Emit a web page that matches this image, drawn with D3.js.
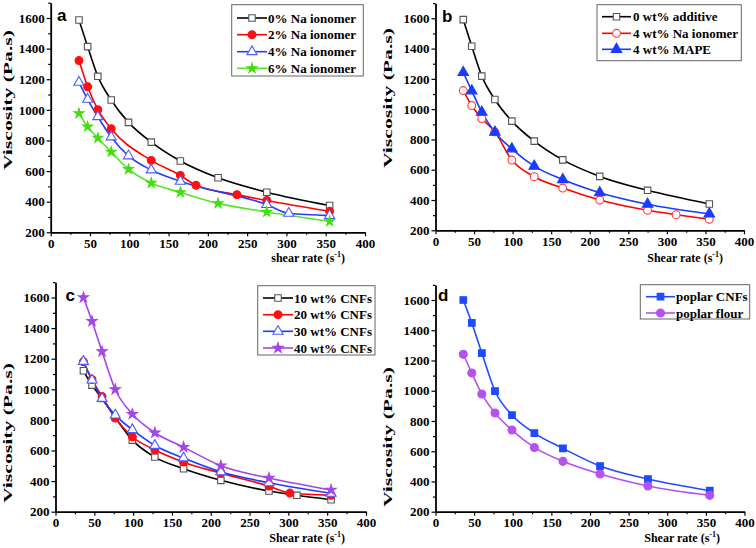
<!DOCTYPE html>
<html><head><meta charset="utf-8">
<script src="https://cdn.jsdelivr.net/npm/d3@7"></script>
<style>
html,body{margin:0;padding:0;background:#fff;}
svg{display:block;}
text{font-family:"Liberation Serif","Times New Roman",serif;font-weight:bold;fill:#000;}
.plabel{font-family:"Liberation Sans",Arial,sans-serif;font-weight:bold;}
</style></head>
<body>
<svg id="c" width="756" height="548"></svg>
<script>
// ---------- DATA ----------
const xTicks = [0,50,100,150,200,250,300,350,400];
const yTicks = [200,400,600,800,1000,1200,1400,1600];

// panel a
const aX0 = [36,47,60,77,99,128,165,213,275,355];
const aY0 = [1587,1413,1219,1064,918,789,666,556,462,375];
const aX2 = [36,47,60,77,128,165,185,237,275,355];
const aY2 = [1322,1151,1001,877,670,572,507,446,408,337];
const aX4 = [36,47,60,77,99,128,165,275,303,355];
const aY4 = [1180,1069,955,823,699,607,533,381,324,309];
const aX6 = [36,47,60,77,99,128,165,213,275,355];
const aY6 = [977,890,816,725,612,522,461,389,333,272];
const aNames = ["0% Na ionomer","2% Na ionomer","4% Na ionomer","6% Na ionomer"];

// panel b
const bX0 = [36,47,60,77,99,128,165,213,275,355];
const bY0 = [1591,1415,1218,1064,921,789,665,556,464,374];
const bXNa = [36,47,60,77,99,128,165,213,275,312,355];
const bYNa = [1123,1024,938,850,664,554,479,400,332,303,273];
const bXMa = [36,47,60,77,99,128,165,213,275,355];
const bYMa = [1242,1121,980,848,738,624,535,448,372,308];
const bNames = ["0 wt% additive","4 wt% Na ionomer","4 wt% MAPE"];

// panel c
const cX10 = [36,47,60,77,99,128,165,213,275,311,355];
const cY10 = [1121,1027,940,816,668,557,481,405,335,307,278];
const cX20 = [36,47,60,77,99,128,165,213,275,302,355];
const cY20 = [1180,1064,953,812,690,603,524,452,367,322,307];
const cX30 = [36,47,60,77,99,128,165,213,275,355];
const cY30 = [1182,1060,940,831,736,633,551,461,389,320];
const cX40 = [36,47,60,77,99,128,165,213,275,355];
const cY40 = [1600,1445,1247,999,838,716,622,500,420,342];
const cNames = ["10 wt% CNFs","20 wt% CNFs","30 wt% CNFs","40 wt% CNFs"];

// panel d
const dX = [36,47,60,77,99,128,165,213,275,355];
const dYCnf = [1600,1448,1249,998,839,720,619,502,416,339];
const dYFlour = [1241,1117,978,853,740,625,533,449,370,308];
const dNames = ["poplar CNFs","poplar flour"];

// ---------- STYLES ----------
const S = {
  sqOpen:  {sym:d3.symbolSquare,  size:42, fill:"#fff", stroke:"#555"},
  cirRed:  {sym:d3.symbolCircle,  size:48, fill:"#ff1010", stroke:"#ff1010"},
  triOpenB:{sym:d3.symbolTriangle,size:44, fill:"#fff", stroke:"#4a5cff"},
  starG:   {sym:d3.symbolStar,    size:30, fill:"#44dd11", stroke:"#44dd11"},
  cirOpenR:{sym:d3.symbolCircle,  size:48, fill:"#fff", stroke:"#ff3a3a"},
  triB:    {sym:d3.symbolTriangle,size:48, fill:"#1a3cff", stroke:"#1a3cff"},
  starP:   {sym:d3.symbolStar,    size:32, fill:"#a645e6", stroke:"#a645e6"},
  sqB:     {sym:d3.symbolSquare,  size:44, fill:"#1f4bff", stroke:"#1f4bff"},
  cirP:    {sym:d3.symbolCircle,  size:50, fill:"#b552ee", stroke:"#b552ee"}
};

const panels = [
  {label:"a", lx:57, ly:21, xl:"shear rate (s", xlX:345, xlY:262, ylX:12, ylY:100,
   x0:50.7, x1:365, yb:232.3, yt:18,
   leg:{x:231.7, y:4.7, w:131.6, h:71.3, rows:[18,34.7,51.7,68.3], lx0:237, lx1:267, tx:268},
   series:[
    {xs:aX0, ys:aY0, name:aNames[0], color:"#000", m:S.sqOpen},
    {xs:aX2, ys:aY2, name:aNames[1], color:"#ff0000", m:S.cirRed},
    {xs:aX4, ys:aY4, name:aNames[2], color:"#2a3cff", m:S.triOpenB},
    {xs:aX6, ys:aY6, name:aNames[3], color:"#55e622", m:S.starG}]},
  {label:"b", lx:442, ly:21.7, xl:"Shear rate (s", xlX:723, xlY:262, ylX:392, ylY:98,
   x0:435.5, x1:744, yb:230.3, yt:18.3,
   leg:{x:597, y:4.7, w:144.3, h:56, rows:[16.7,33.3,49.3], lx0:602, lx1:631, tx:633},
   series:[
    {xs:bX0, ys:bY0, name:bNames[0], color:"#000", m:S.sqOpen},
    {xs:bXNa, ys:bYNa, name:bNames[1], color:"#ff0000", m:S.cirOpenR},
    {xs:bXMa, ys:bYMa, name:bNames[2], color:"#1a3cff", m:S.triB}]},
  {label:"c", lx:65.5, ly:300.7, xl:"Shear rate (s", xlX:345, xlY:542, ylX:12, ylY:433,
   x0:55.5, x1:366, yb:511.7, yt:297.5,
   leg:{x:257.7, y:285.7, w:117.3, h:69.3, rows:[298,314.7,331.3,348], lx0:263, lx1:293, tx:294},
   series:[
    {xs:cX10, ys:cY10, name:cNames[0], color:"#000", m:S.sqOpen},
    {xs:cX20, ys:cY20, name:cNames[1], color:"#ff0000", m:S.cirRed},
    {xs:cX30, ys:cY30, name:cNames[2], color:"#1a3cff", m:S.triOpenB},
    {xs:cX40, ys:cY40, name:cNames[3], color:"#a645e6", m:S.starP}]},
  {label:"d", lx:438, ly:300.7, xl:"Shear rate (s", xlX:720, xlY:542, ylX:392, ylY:437,
   x0:435.5, x1:744.5, yb:511.7, yt:300,
   leg:{x:640.3, y:284.7, w:109.4, h:34.3, rows:[296.7,313], lx0:646, lx1:675, tx:676},
   series:[
    {xs:dX, ys:dYCnf, name:dNames[0], color:"#1f4bff", m:S.sqB},
    {xs:dX, ys:dYFlour, name:dNames[1], color:"#b552ee", m:S.cirP}]}
];

const svg = d3.select("#c");

function marker(g, m, x, y){
  g.append("path").attr("d", d3.symbol().type(m.sym).size(m.size)())
    .attr("transform", `translate(${x},${y})`)
    .attr("fill", m.fill).attr("stroke", m.stroke).attr("stroke-width", 1.1);
}

panels.forEach(p => {
  const g = svg.append("g");
  const x = d3.scaleLinear().domain([0,400]).range([p.x0, p.x1]);
  const y = d3.scaleLinear().domain([200,1600]).range([p.yb, p.yt]);
  const yTop = y(1700);

  const line = d3.line().x(d=>x(d[0])).y(d=>y(d[1])).curve(d3.curveMonotoneX);
  p.series.forEach(s => {
    const pts = s.xs.map((v,i)=>[v, s.ys[i]]);
    g.append("path").attr("d", line(pts)).attr("fill","none")
      .attr("stroke", s.color).attr("stroke-width", 1.6);
  });
  p.series.forEach(s => {
    s.xs.forEach((v,i)=> marker(g, s.m, x(v), y(s.ys[i])));
  });

  const yScaleFull = d3.scaleLinear().domain([200,1700]).range([p.yb, yTop]);
  const minorY = d3.range(300,1800,200);
  const minorX = d3.range(25,400,50);
  g.append("g").attr("transform",`translate(0,${p.yb})`)
    .call(d3.axisBottom(x).tickValues(xTicks).tickSize(4).tickSizeOuter(0).tickPadding(2).tickFormat(d3.format("d")));
  g.append("g").attr("transform",`translate(0,${p.yb})`)
    .call(d3.axisBottom(x).tickValues(minorX).tickSize(2.5).tickSizeOuter(0).tickFormat(""))
    .select(".domain").remove();
  g.append("g").attr("transform",`translate(${p.x0},0)`)
    .call(d3.axisLeft(yScaleFull).tickValues(yTicks).tickSize(4).tickSizeOuter(0).tickPadding(2).tickFormat(d3.format("d")));
  g.append("g").attr("transform",`translate(${p.x0},0)`)
    .call(d3.axisLeft(yScaleFull).tickValues(minorY).tickSize(2.5).tickSizeOuter(0).tickFormat(""))
    .select(".domain").remove();
  g.selectAll(".domain").attr("stroke","#000").attr("stroke-width",1.8);
  g.selectAll(".tick line").attr("stroke","#000").attr("stroke-width",1.2);
  g.selectAll(".tick text").style("font-family",'"Liberation Serif","Times New Roman",serif')
    .style("font-weight","bold").style("font-size","13px").attr("fill","#000");

  const xt = g.append("text").attr("x", p.xlX).attr("y", p.xlY)
    .attr("text-anchor","end").style("font-size","12px");
  xt.append("tspan").text(p.xl);
  xt.append("tspan").text("-1").attr("dy",-5).style("font-size","8px");
  xt.append("tspan").text(")").attr("dy",5);

  g.append("text").attr("transform",`translate(${p.ylX},${p.ylY}) rotate(-90)`)
    .attr("text-anchor","middle").style("font-size","12px")
    .attr("textLength",140).attr("lengthAdjust","spacingAndGlyphs")
    .text("Viscosity (Pa.s)");

  g.append("text").attr("class","plabel").attr("x",p.lx).attr("y",p.ly)
    .style("font-size","17px").text(p.label);

  const L = p.leg;
  g.append("rect").attr("x",L.x).attr("y",L.y).attr("width",L.w).attr("height",L.h)
    .attr("fill","#fff").attr("stroke","#666").attr("stroke-width",1);
  p.series.forEach((s,i)=>{
    const ry = L.rows[i];
    g.append("line").attr("x1",L.lx0).attr("x2",L.lx1).attr("y1",ry).attr("y2",ry)
      .attr("stroke", s.color).attr("stroke-width",1.6);
    marker(g, s.m, (L.lx0+L.lx1)/2, ry);
    g.append("text").attr("x",L.tx).attr("y",ry+4.5).style("font-size","13px").text(s.name);
  });
});
</script>
</body></html>
